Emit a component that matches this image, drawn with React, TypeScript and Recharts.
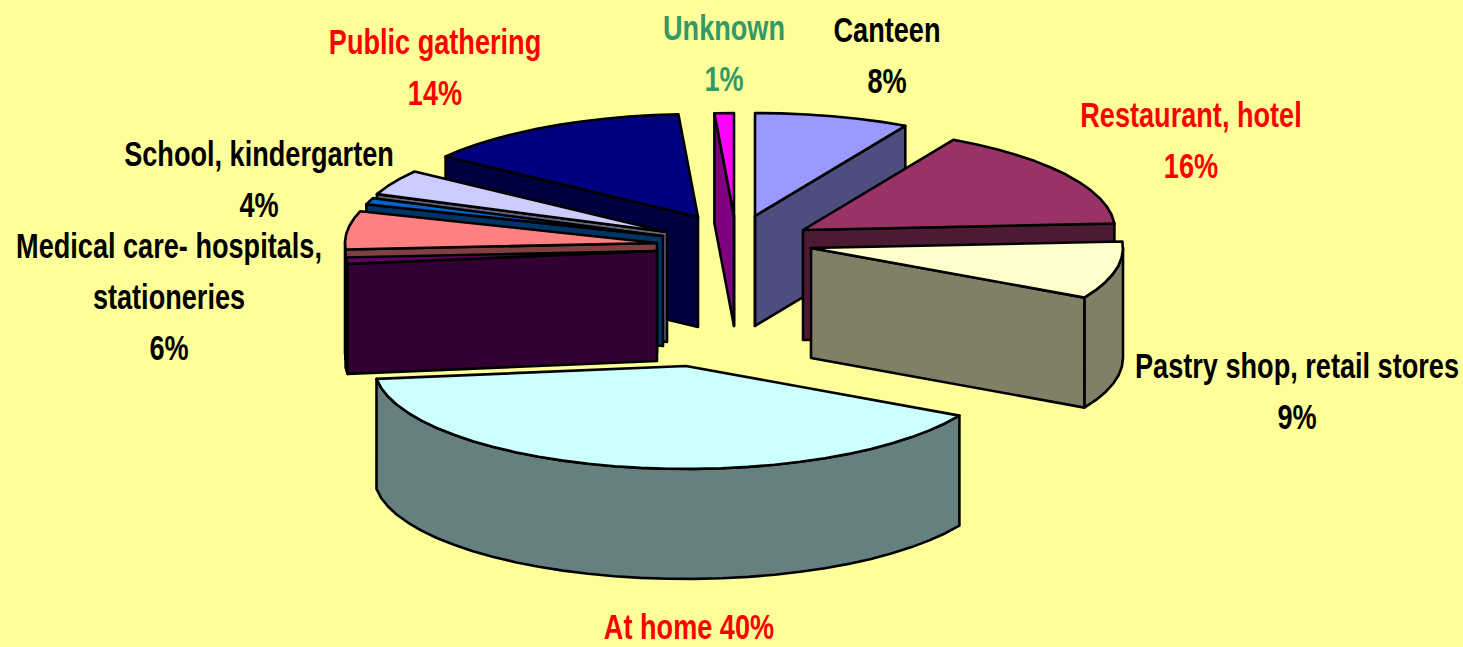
import { Pie, PieChart } from 'recharts';

// Clockwise from the thin slice just left of twelve o'clock
const sliceNames = [
  'Unknown',
  'Canteen',
  'Restaurant, hotel',
  'Pastry shop, retail stores',
  'At home',
  'Other care',
  'Medical care- hospitals, stationeries',
  'Other institutions',
  'School, kindergarten',
  'Public gathering',
];
const sliceValues = [1, 8, 16, 9, 40, 1, 6, 1, 4, 14];
const sliceColors = [
  '#FF00FF',
  '#9999FF',
  '#993366',
  '#FFFFCC',
  '#CCFFFF',
  '#660066',
  '#FF8080',
  '#0066CC',
  '#CCCCFF',
  '#000080',
];

const WIDTH = 1463;
const HEIGHT = 647;
const CX = 725;
const CY = 240;
const RX = 312;
const TILT = 0.33;
const DEPTH = 110;

// How far each slice is pulled out of the pie, in px
const explode: Record<string, [number, number]> = {
  Unknown: [9, -24],
  Canteen: [30, -24],
  'Restaurant, hotel': [78, -10],
  'Pastry shop, retail stores': [86, 8],
  'At home': [-39, 126],
  'Other care': [-68, 11],
  'Medical care- hospitals, stationeries': [-68, 3],
  'Other institutions': [-62, -4],
  'School, kindergarten': [-58, -8],
  'Public gathering': [-27, -23],
};

interface LabelSpot {
  x: number;
  y: number;
  color: string;
  lines: string[];
}

// Label anchors: centre x, first baseline. The value line is appended unless inline.
const labelSpots: Record<string, LabelSpot> = {
  Unknown: { x: 724, y: 40, color: '#339966', lines: ['Unknown'] },
  Canteen: { x: 887, y: 42, color: '#000000', lines: ['Canteen'] },
  'Restaurant, hotel': { x: 1191, y: 127, color: '#FF0000', lines: ['Restaurant, hotel'] },
  'Pastry shop, retail stores': { x: 1297, y: 378, color: '#000000', lines: ['Pastry shop, retail stores'] },
  'At home': { x: 689, y: 639, color: '#FF0000', lines: [] },
  'Medical care- hospitals, stationeries': {
    x: 169,
    y: 258,
    color: '#000000',
    lines: ['Medical care- hospitals,', 'stationeries'],
  },
  'School, kindergarten': { x: 259, y: 166, color: '#000000', lines: ['School, kindergarten'] },
  'Public gathering': { x: 435, y: 54, color: '#FF0000', lines: ['Public gathering'] },
};

const LINE_GAP = 51;
const FONT_SIZE = 35;
const X_SQUEEZE = 0.775;

const rows = sliceNames.map((name, i) => ({ name, value: sliceValues[i], fill: sliceColors[i] }));
const rightRows = rows.slice(0, 5);
// Painted back to front, so the left side runs the other way round
const leftRows = rows.slice(5).reverse();

const DEG_PER_UNIT = 360 / sliceValues.reduce((s, v) => s + v, 0);
const START = 90 + sliceValues[0] * DEG_PER_UNIT;
const SPLIT = START - rightRows.reduce((s, r) => s + r.value, 0) * DEG_PER_UNIT;

function darken(hex: string): string {
  const n = parseInt(hex.slice(1), 16);
  const half = (c: number) => Math.round(c / 2).toString(16).padStart(2, '0');
  return `#${half((n >> 16) & 255)}${half((n >> 8) & 255)}${half(n & 255)}`;
}

const toPoints = (pts: number[][]) => pts.map((p) => `${p[0].toFixed(1)},${p[1].toFixed(1)}`).join(' ');

// Draws a sector as an extruded wedge lying on a tilted plane
function Wedge(props: any) {
  const { cx, cy, outerRadius, startAngle, endAngle, fill, name } = props;
  const [dx, dy] = explode[name] ?? [0, 0];
  const ax = cx + dx;
  const ay = cy + dy;
  const ry = outerRadius * TILT;

  // Clockwise from twelve o'clock, in degrees
  let from = 90 - Math.max(startAngle, endAngle);
  let to = 90 - Math.min(startAngle, endAngle);
  if (from < 0) {
    from += 360;
    to += 360;
  }

  const rim = (t: number) => {
    const r = (t * Math.PI) / 180;
    return [ax + outerRadius * Math.sin(r), ay - ry * Math.cos(r)];
  };
  const arc = (a: number, b: number) => {
    const steps = Math.max(1, Math.ceil((b - a) / 5));
    return Array.from({ length: steps + 1 }, (_, i) => rim(a + ((b - a) * i) / steps));
  };
  const drop = (p: number[]) => [p[0], p[1] + DEPTH];
  const sin = (t: number) => Math.sin((t * Math.PI) / 180);

  const side = darken(fill);
  const walls: number[][][] = [];
  const arcFrom = Math.max(from, 90);
  const arcTo = Math.min(to, 270);
  if (arcTo > arcFrom) {
    const a = arc(arcFrom, arcTo);
    walls.push([...a, ...a.map(drop).reverse()]);
  }
  if (sin(from) < -0.001) {
    const p = rim(from);
    walls.push([[ax, ay], p, drop(p), [ax, ay + DEPTH]]);
  }
  if (sin(to) > 0.001) {
    const p = rim(to);
    walls.push([[ax, ay], p, drop(p), [ax, ay + DEPTH]]);
  }
  // Edge seen square-on still shows as a line under the apex
  if (Math.abs(sin(from)) <= 0.001 || Math.abs(sin(to)) <= 0.001) {
    walls.push([[ax, ay], [ax, ay + DEPTH]]);
  }

  return (
    <g stroke="#000000" strokeWidth={2.6} strokeLinejoin="round">
      {walls.map((w, i) => (
        <polygon key={i} points={toPoints(w)} fill={side} />
      ))}
      <polygon points={toPoints([[ax, ay], ...arc(from, to)])} fill={fill} />
    </g>
  );
}

function SliceLabel(props: any) {
  const { name, value } = props;
  const spot = labelSpots[name];
  if (!spot) return null;
  const inline = spot.lines.length === 0;
  const lines = inline ? [`${name} ${value}%`] : [...spot.lines, `${value}%`];
  return (
    <g>
      {lines.map((line, i) => (
        <text
          key={i}
          transform={`translate(${spot.x},${spot.y + i * LINE_GAP}) scale(${X_SQUEEZE},1)`}
          textAnchor="middle"
          fontFamily="'Liberation Sans', Arial, sans-serif"
          fontWeight="bold"
          fontSize={FONT_SIZE}
          fill={spot.color}
        >
          {line}
        </text>
      ))}
    </g>
  );
}

export default function App() {
  return (
    <div style={{ position: 'fixed', left: 0, top: 0, width: WIDTH, height: HEIGHT, background: '#FFFF99' }}>
      <PieChart width={WIDTH} height={HEIGHT} margin={{ top: 0, right: 0, bottom: 0, left: 0 }}>
        <Pie
          data={leftRows}
          dataKey="value"
          nameKey="name"
          cx={CX}
          cy={CY}
          innerRadius={0}
          outerRadius={RX}
          startAngle={START}
          endAngle={SPLIT + 360}
          shape={Wedge}
          label={SliceLabel}
          labelLine={false}
          isAnimationActive={false}
        />
        <Pie
          data={rightRows}
          dataKey="value"
          nameKey="name"
          cx={CX}
          cy={CY}
          innerRadius={0}
          outerRadius={RX}
          startAngle={START}
          endAngle={SPLIT}
          shape={Wedge}
          label={SliceLabel}
          labelLine={false}
          isAnimationActive={false}
        />
      </PieChart>
    </div>
  );
}
